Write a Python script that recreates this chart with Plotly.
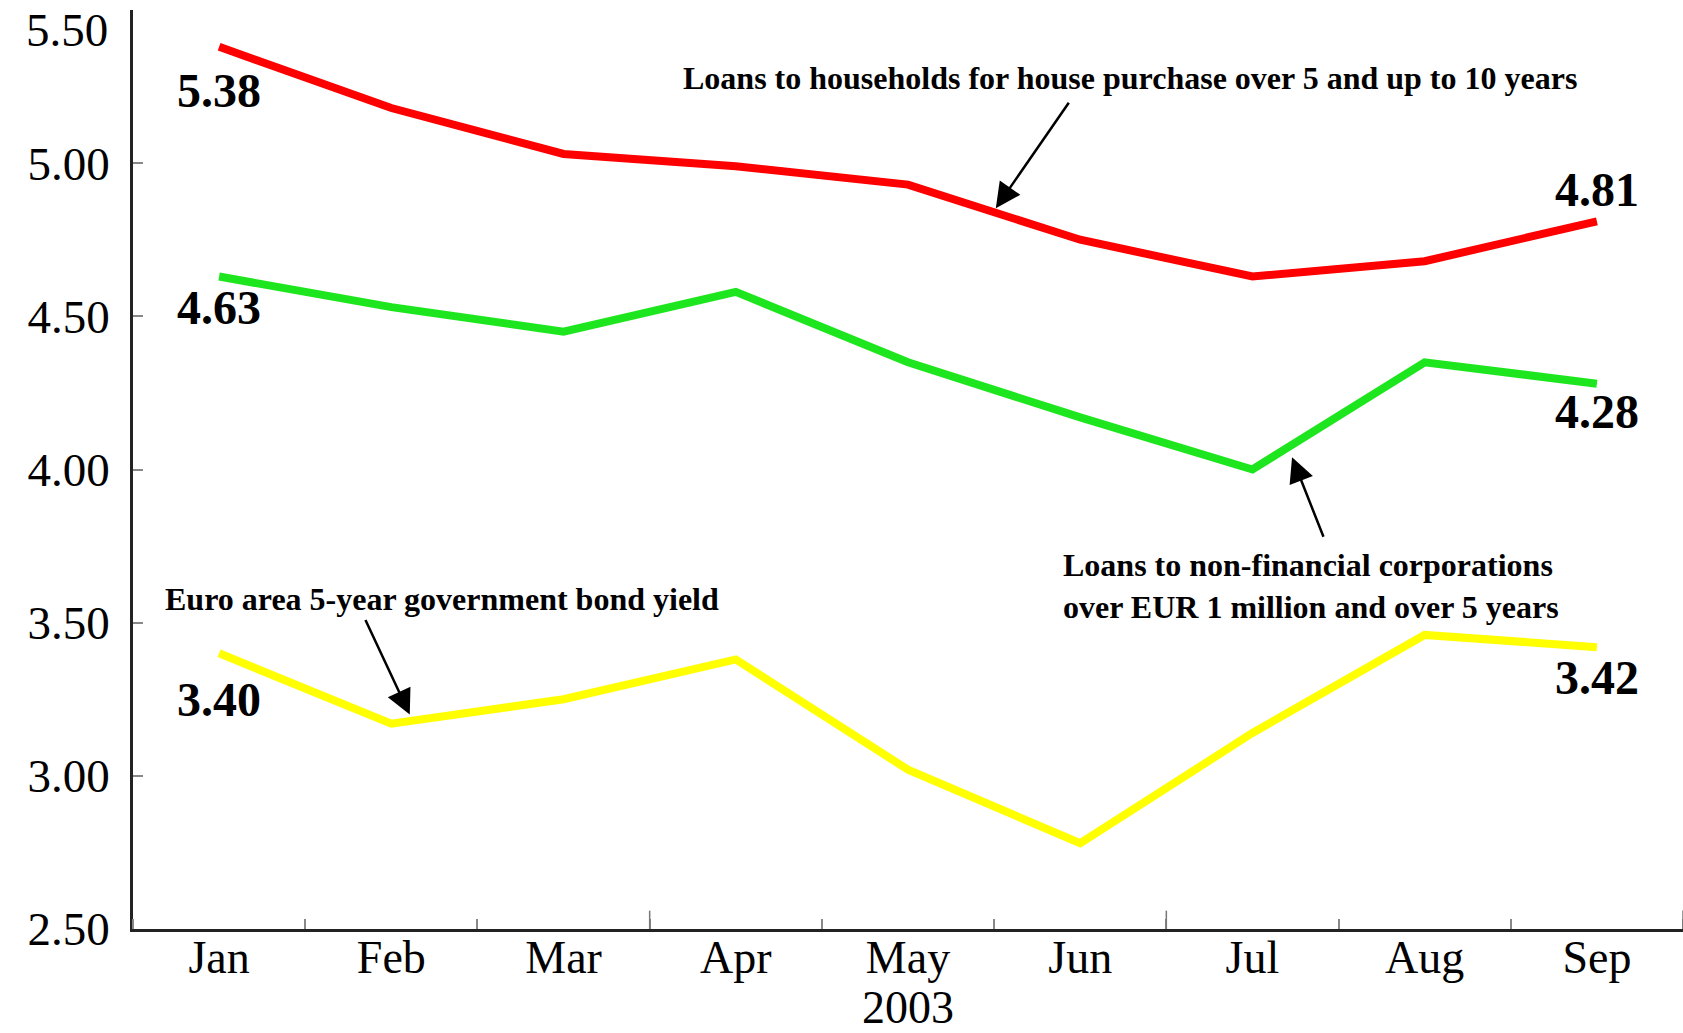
import plotly.graph_objects as go

months = ["Jan", "Feb", "Mar", "Apr", "May", "Jun", "Jul", "Aug", "Sep"]
year_label = "2003"
households = [5.38, 5.18, 5.03, 4.99, 4.93, 4.75, 4.63, 4.68, 4.81]
corporations = [4.63, 4.53, 4.45, 4.58, 4.35, 4.17, 4.00, 4.35, 4.28]
bond_yield = [3.40, 3.17, 3.25, 3.38, 3.02, 2.78, 3.14, 3.46, 3.42]
y_ticks = [2.5, 3.0, 3.5, 4.0, 4.5, 5.0, 5.5]
quarter_ticks = [2.5, 5.5, 8.5]

name_households = "Loans to households for house purchase over 5 and up to 10 years"
name_corporations = "Loans to non-financial corporations<br>over EUR 1 million and over 5 years"
name_bond = "Euro area 5-year government bond yield"

FONT = "Liberation Serif, Times New Roman, serif"
L, T, W, H = 133, 10, 1550, 919
x = list(range(len(months)))


def px_dom(px, py):
    return (px - L) / W, (T + H - py) / H


fig = go.Figure()
for vals, col in [(households, "#ff0000"), (corporations, "#1ee61e"), (bond_yield, "#ffff00")]:
    fig.add_trace(go.Scatter(x=x, y=vals, mode="lines",
                             line=dict(color=col, width=8), showlegend=False,
                             hoverinfo="skip"))


def val_label(xi, v, shift):
    fig.add_annotation(x=xi, y=v, text=f"<b>{v:.2f}</b>", showarrow=False,
                       yshift=shift, font=dict(family=FONT, size=48, color="black"))


val_label(0, households[0], -44)
val_label(0, corporations[0], -31)
val_label(0, bond_yield[0], -46)
val_label(8, households[-1], 32)
val_label(8, corporations[-1], -28)
val_label(8, bond_yield[-1], -30)

for (px, py), txt, anchor in [((1130, 78), name_households, "center"),
                              ((1061, 586), name_corporations, "left"),
                              ((442, 599), name_bond, "center")]:
    dx, dy = px_dom(px, py)
    fig.add_annotation(x=dx, y=dy, xref="x domain", yref="y domain", text=f"<b>{txt}</b>",
                       showarrow=False, xanchor=anchor, yanchor="middle", align="left",
                       font=dict(family=FONT, size=32, color="black"))

for hx, hy, ax, ay in [(4.51, 4.853, 74, -107), (6.23, 4.04, 32, 81), (1.107, 3.20, -45, -96)]:
    fig.add_annotation(x=hx, y=hy, ax=ax, ay=ay, text="", showarrow=True,
                       arrowhead=2, arrowsize=2, arrowwidth=2.5, arrowcolor="black")

fig.add_annotation(x=0, y=5.5, xref="paper", yref="y", text="5.50", showarrow=False,
                   xanchor="right", yanchor="top", xshift=-23, yshift=8,
                   font=dict(family=FONT, size=47, color="black"))

for q in quarter_ticks:
    fig.add_shape(type="line", x0=q, x1=q, y0=0, y1=0.02, xref="x", yref="paper",
                  line=dict(color="#777", width=1.5))

fig.update_layout(
    width=1683, height=1033,
    margin=dict(l=L, r=1683 - L - W, t=T, b=1033 - T - H),
    paper_bgcolor="white", plot_bgcolor="white",
    font=dict(family=FONT, color="black"),
)
fig.update_xaxes(range=[-0.5, 8.5], tickvals=x, ticktext=months, ticks="",
                 showline=True, linecolor="#222", linewidth=2.5, showgrid=False, zeroline=False,
                 tickfont=dict(size=46, family=FONT), ticklabelstandoff=-14,
                 minor=dict(ticks="inside", tick0=0.5, dtick=1, ticklen=10, tickcolor="#888", tickwidth=1.5),
                 title=dict(text=year_label, font=dict(size=46, family=FONT), standoff=0))
fig.update_yaxes(range=[2.5, 5.5], tickvals=y_ticks,
                 ticktext=[f"{v:.2f}" if v < 5.5 else "" for v in y_ticks],
                 ticks="inside", ticklen=10, tickcolor="#888", tickwidth=1.5,
                 showline=True, linecolor="#222", linewidth=2.5, showgrid=False, zeroline=False,
                 tickfont=dict(size=47, family=FONT), ticklabelstandoff=11)

fig.write_html("out.html")
